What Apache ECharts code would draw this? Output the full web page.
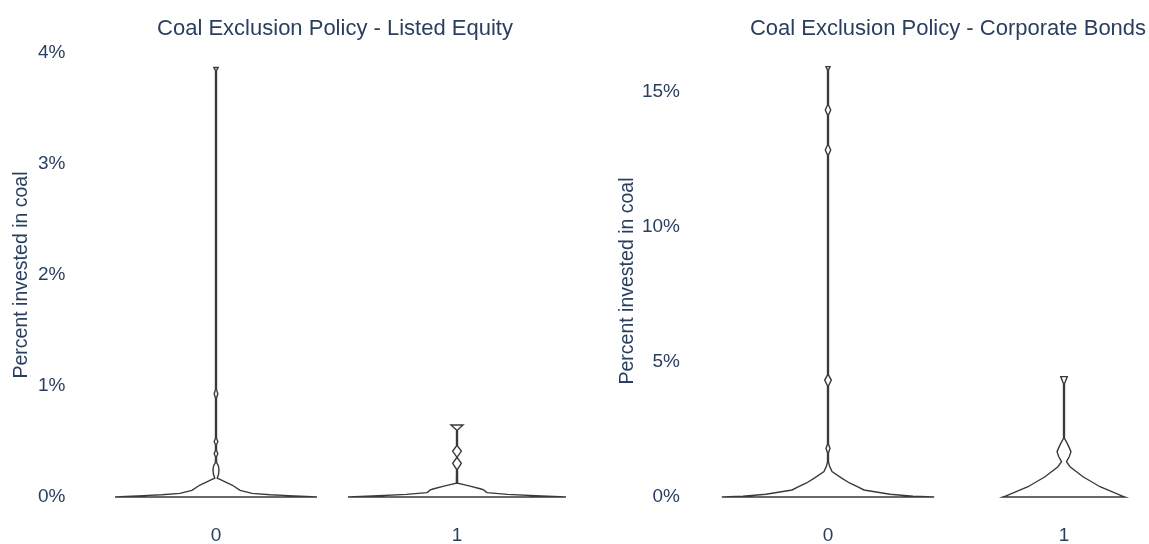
<!DOCTYPE html>
<html>
<head>
<meta charset="utf-8">
<script src="https://cdn.jsdelivr.net/npm/echarts@6/dist/echarts.min.js"></script>
<style>
  html, body { margin: 0; padding: 0; background: #fff; }
  #chart { width: 1149px; height: 544px; }
</style>
</head>
<body>
<div id="chart"></div>
<script>
// categories
const policyCats = ['0', '1'];

// violin outlines: level (%) and half width (share of half a band)
const equity0Y = [0, 0.005, 0.012, 0.02, 0.033, 0.06, 0.108, 0.15, 0.17, 0.2, 0.24, 0.28, 0.31, 0.36, 0.39, 0.42, 0.47, 0.5, 0.53, 0.89, 0.93, 0.97, 3.84, 3.87];
const equity0W = [0.838, 0.75, 0.6, 0.45, 0.3, 0.2, 0.133, 0.05, 0.01, 0.02, 0.025, 0.02, 0.005, 0.004, 0.015, 0.004, 0.004, 0.015, 0.004, 0.004, 0.015, 0.004, 0.004, 0.018];

const equity1Y = [0, 0.009, 0.024, 0.039, 0.05, 0.063, 0.072, 0.1, 0.124, 0.25, 0.304, 0.352, 0.363, 0.414, 0.459, 0.604, 0.649];
const equity1W = [0.905, 0.7, 0.42, 0.25, 0.235, 0.225, 0.2, 0.1, 0.005, 0.004, 0.036, 0.004, 0.004, 0.036, 0.004, 0.004, 0.05];

const bonds0Y = [0, 0.03, 0.1, 0.26, 0.4, 0.51, 0.69, 0.94, 1.15, 1.3, 1.64, 1.8, 1.96, 4.11, 4.33, 4.52, 12.67, 12.85, 13.04, 14.15, 14.33, 14.52, 15.81, 15.94];
const bonds0W = [0.9, 0.72, 0.525, 0.305, 0.24, 0.186, 0.119, 0.034, 0.013, 0.004, 0.004, 0.017, 0.004, 0.004, 0.028, 0.004, 0.004, 0.023, 0.004, 0.004, 0.023, 0.004, 0.004, 0.017];

const bonds1Y = [0, 0.04, 0.38, 0.75, 1.12, 1.31, 1.5, 1.68, 1.93, 2.17, 4.19, 4.46];
const bonds1W = [0.517, 0.49, 0.305, 0.161, 0.051, 0.021, 0.045, 0.059, 0.034, 0.004, 0.004, 0.028];

// tick labels
const equityTicks = [0, 1, 2, 3, 4];
const bondsTicks = [0, 5, 10, 15];

const textColor = '#2a3f5f';
const font = '"Liberation Sans", Arial, sans-serif';

function violinRender(profiles) {
  return function (params, api) {
    const idx = api.value(0);
    const p = profiles[idx];
    const half = api.size([1, 0])[0] / 2;
    const left = [], right = [];
    for (let i = 0; i < p.y.length; i++) {
      const c = api.coord([idx, p.y[i]]);
      left.push([c[0] - p.w[i] * half, c[1]]);
      right.push([c[0] + p.w[i] * half, c[1]]);
    }
    return {
      type: 'polygon',
      shape: { points: left.concat(right.reverse()) },
      style: { fill: 'rgba(0,0,0,0)', stroke: '#3a3a3a', lineWidth: 1.4 }
    };
  };
}

function yAxisFor(idx, max, step, ticks) {
  return {
    type: 'value', gridIndex: idx, min: 0, max: max, interval: step,
    name: 'Percent invested in coal', nameLocation: 'middle', nameGap: 64,
    nameTextStyle: { color: textColor, fontSize: 19.5, fontFamily: font },
    axisLine: { show: false }, axisTick: { show: false }, splitLine: { show: false },
    axisLabel: {
      color: textColor, fontSize: 19, fontFamily: font, margin: 30,
      formatter: v => ticks.indexOf(v) >= 0 ? v + '%' : ''
    }
  };
}

function xAxisFor(idx) {
  return {
    type: 'category', gridIndex: idx, data: policyCats,
    axisLine: { show: false }, axisTick: { show: false },
    axisLabel: { color: textColor, fontSize: 19, fontFamily: font, margin: 29 }
  };
}

const chart = echarts.init(document.getElementById('chart'));
chart.setOption({
  animation: false,
  backgroundColor: '#fff',
  title: [
    { text: 'Coal Exclusion Policy - Listed Equity', left: 330, top: 13, textAlign: 'center',
      textStyle: { color: textColor, fontSize: 22, fontWeight: 'normal', fontFamily: font } },
    { text: 'Coal Exclusion Policy - Corporate Bonds', left: 943, top: 13, textAlign: 'center',
      textStyle: { color: textColor, fontSize: 22, fontWeight: 'normal', fontFamily: font } }
  ],
  grid: [
    { left: 95.5, width: 482, top: 53, height: 444, outerBoundsMode: 'none' },
    { left: 710, width: 472, top: 65, height: 432, outerBoundsMode: 'none' }
  ],
  xAxis: [xAxisFor(0), xAxisFor(1)],
  yAxis: [yAxisFor(0, 4, 1, equityTicks), yAxisFor(1, 16, 5, bondsTicks)],
  series: [
    {
      type: 'custom', xAxisIndex: 0, yAxisIndex: 0,
      renderItem: violinRender([{ y: equity0Y, w: equity0W }, { y: equity1Y, w: equity1W }]),
      data: [[0], [1]]
    },
    {
      type: 'custom', xAxisIndex: 1, yAxisIndex: 1,
      renderItem: violinRender([{ y: bonds0Y, w: bonds0W }, { y: bonds1Y, w: bonds1W }]),
      data: [[0], [1]]
    }
  ]
});
</script>
</body>
</html>
